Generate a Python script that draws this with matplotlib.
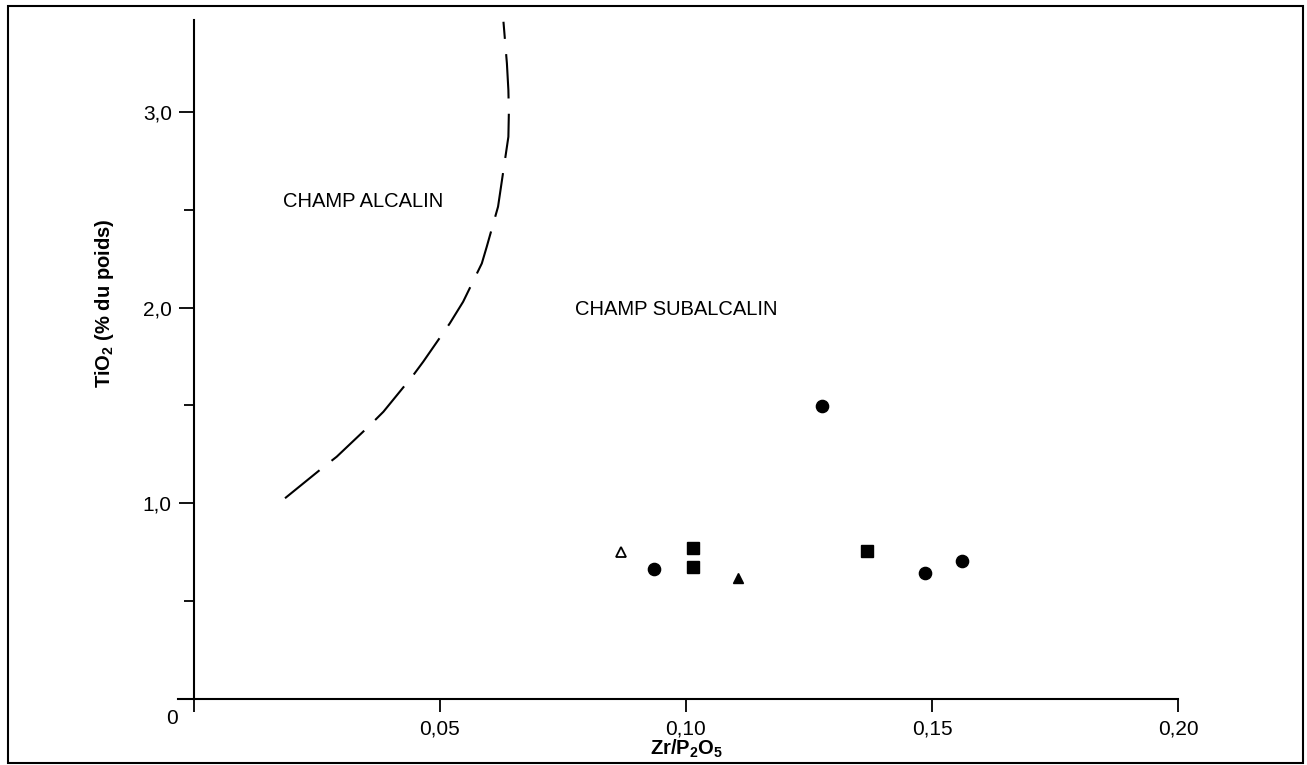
import matplotlib
matplotlib.use("Agg")
import matplotlib.pyplot as plt
from matplotlib.patches import Rectangle

plt.rcParams["font.family"] = ["Liberation Sans", "DejaVu Sans"]
plt.rcParams["mathtext.fontset"] = "custom"
plt.rcParams["mathtext.rm"] = "Liberation Sans"
plt.rcParams["mathtext.bf"] = "Liberation Sans:bold"
plt.rcParams["lines.scale_dashes"] = False

# Samples (Zr/P2O5, TiO2 wt%)
circle_x = [0.0934, 0.1276, 0.1486, 0.1560]
circle_y = [0.664, 1.497, 0.642, 0.704]
square_x = [0.1014, 0.1014, 0.1368]
square_y = [0.772, 0.676, 0.756]
tri_x = [0.1105]
tri_y = [0.617]
open_tri_x = [0.0868]
open_tri_y = [0.753]

# Alkaline / subalkaline boundary
boundary_x = [0.0185, 0.0260, 0.0290, 0.0358, 0.0385, 0.0446, 0.0466, 0.0520, 0.0547,
              0.0585, 0.0595, 0.0618, 0.0622, 0.0636, 0.0639, 0.0640, 0.0639, 0.0636, 0.0629]
boundary_y = [1.026, 1.179, 1.238, 1.400, 1.468, 1.656, 1.724, 1.920, 2.030,
              2.226, 2.311, 2.516, 2.584, 2.822, 2.873, 3.000, 3.112, 3.248, 3.461]

x_ticks = [0.0, 0.05, 0.10, 0.15, 0.20]
x_labels = ["", "0,05", "0,10", "0,15", "0,20"]
y_ticks = [1.0, 2.0, 3.0]
y_labels = ["1,0", "2,0", "3,0"]
y_minor = [0.5, 1.5, 2.5]

W, H = 1307, 765
fig = plt.figure(figsize=(W / 100, H / 100), dpi=100)
ax = fig.add_axes([178 / W, 1 - 699 / H, 1000 / W, 679 / H])
ax.set_xlim(-0.00325, 0.20)
ax.set_ylim(0, 3.47)

for side in ["top", "right"]:
    ax.spines[side].set_visible(False)
ax.spines["left"].set_position(("data", 0))
ax.spines["left"].set_linewidth(1.5)
ax.spines["bottom"].set_linewidth(1.5)

ax.set_xticks(x_ticks)
ax.set_xticklabels(x_labels, fontsize=15)
ax.set_yticks(y_ticks)
ax.set_yticklabels(y_labels, fontsize=15)
ax.set_yticks(y_minor, minor=True)
ax.tick_params(axis="x", direction="out", length=9, width=1.3, pad=6)
ax.tick_params(axis="y", which="major", direction="out", length=11, width=1.3, pad=5)
ax.tick_params(axis="y", which="minor", direction="out", length=7, width=1.3)

ax.text(-0.0033, -0.05, "0", fontsize=15, ha="right", va="top")

ax.plot(boundary_x, boundary_y, color="black", lw=1.5, dashes=(32, 11))

ax.plot(circle_x, circle_y, "o", color="black", ms=8.8, ls="none")
ax.plot(square_x, square_y, "s", color="black", ms=8.6, ls="none")
ax.plot(tri_x, tri_y, "^", color="black", ms=7.5, ls="none")
ax.plot(open_tri_x, open_tri_y, "^", mfc="white", mec="black", mew=1.3, ms=6.5, ls="none")

ax.text(0.0181, 2.545, "CHAMP ALCALIN", fontsize=14.5, ha="left", va="center")
ax.text(0.0774, 1.988, "CHAMP SUBALCALIN", fontsize=14.5, ha="left", va="center")

ax.set_xlabel(r"Zr/P$_\mathbf{2}$O$_\mathbf{5}$", fontsize=14.5, fontweight="bold")
ax.xaxis.set_label_coords(687 / W, 1 - 749 / H, transform=fig.transFigure)
ax.xaxis.label.set_va("center")
ax.set_ylabel(r"TiO$_\mathbf{2}$ (% du poids)", fontsize=14.5, fontweight="bold")
ax.yaxis.set_label_coords(105 / W, 1 - 303 / H, transform=fig.transFigure)
ax.yaxis.label.set_va("center")

fig.patches.append(Rectangle((8 / W, 1 - 763 / H), 1295 / W, 757 / H,
                             transform=fig.transFigure, fill=False,
                             edgecolor="black", linewidth=1.5))

fig.savefig("out.png", dpi=100)
